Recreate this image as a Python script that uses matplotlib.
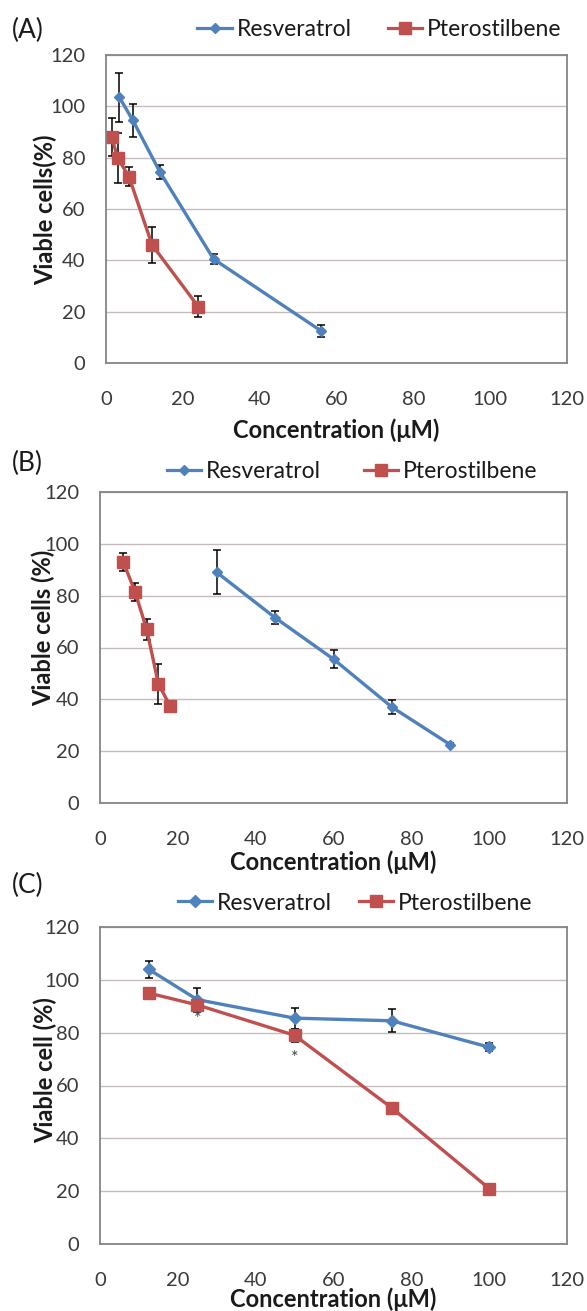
import numpy as np
import matplotlib.pyplot as plt
from matplotlib.lines import Line2D

# figure is 587 x 1311 px
W, H = 587, 1311
plt.rcParams['font.family'] = ['Lato', 'DejaVu Sans']

blue = '#4f81bd'
red = '#c0504d'

# Panel A
a_res_x = [3.5, 7, 14, 28, 56]
a_res_y = [103.5, 94.5, 74.5, 40.5, 12.5]
a_res_err = [9.5, 6.5, 2.7, 2.0, 2.3]
a_pte_x = [1.5, 3, 6, 12, 24]
a_pte_y = [88, 80, 72.5, 46, 22]
a_pte_err = [7.5, 9.8, 3.7, 7.0, 4.2]

# Panel B
b_res_x = [30, 45, 60, 75, 90]
b_res_y = [89, 71.5, 55.5, 37, 22.5]
b_res_err = [8.5, 2.4, 3.5, 2.6, 0.5]
b_pte_x = [6, 9, 12, 15, 18]
b_pte_y = [93, 81.5, 67, 46, 37.5]
b_pte_err = [3.6, 3.5, 4.0, 7.7, 0.5]

# Panel C
c_x = [12.5, 25, 50, 75, 100]
c_res_y = [104, 92.5, 85.5, 84.5, 74.5]
c_res_err = [3.2, 4.5, 4.0, 4.4, 1.5]
c_pte_y = [95, 90.5, 79, 51.5, 21]
c_pte_err = [0.8, 2.0, 2.5, 0.8, 0.8]
c_star_x = [25, 50]
c_star_y = [85, 70.5]

ticks = [0, 20, 40, 60, 80, 100, 120]


def px_axes(left, right, top, bottom):
    return [left / W, 1 - bottom / H, (right - left) / W, (bottom - top) / H]


def setup(ax, ylabel, ylab_x, ylab_y, xlab_y, tag, tag_y, leg_right, leg_y, res_ms, colsp):
    ax.set_xlim(0, 120)
    ax.set_ylim(0, 120)
    ax.set_xticks(ticks)
    ax.set_yticks(ticks)
    ax.grid(axis='y', color='#c4bcbc', lw=1.0)
    ax.set_axisbelow(True)
    for s in ax.spines.values():
        s.set_color('#858585')
        s.set_linewidth(1.3)
    ax.tick_params(length=0, labelsize=14.5, colors='#3a3a3a')
    ax.tick_params(axis='x', pad=20)
    ax.tick_params(axis='y', pad=15)
    ax.set_ylabel(ylabel, fontsize=17, fontweight='bold', color='#1a1a1a')
    ax.set_xlabel('Concentration (\u03bcM)', fontsize=17, fontweight='bold', color='#1a1a1a')
    pos = ax.get_position()
    # place labels at pixel positions
    ax.yaxis.set_label_coords((ylab_x / W - pos.x0) / pos.width, ((1 - ylab_y / H) - pos.y0) / pos.height)
    ax.yaxis.label.set_va('center')
    ax.xaxis.set_label_coords(0.5, ((1 - xlab_y / H) - pos.y0) / pos.height)
    ax.xaxis.label.set_va('center')
    fig.text(12 / W, 1 - tag_y / H, tag, fontsize=19, va='center', ha='left', color='#1a1a1a')
    handles = [Line2D([], [], color=blue, lw=2.3, marker='D', ms=res_ms),
               Line2D([], [], color=red, lw=2.3, marker='s', ms=9)]
    ax.legend(handles, ['Resveratrol', 'Pterostilbene'], loc='center right',
              bbox_to_anchor=(leg_right / W, 1 - leg_y / H),
              bbox_transform=fig.transFigure, ncol=2, frameon=False, fontsize=16.5,
              borderpad=0, handlelength=1.5, handletextpad=0.2, columnspacing=colsp,
              labelcolor='#1a1a1a')


def series(ax, x, y, err, color, marker, ms):
    ax.errorbar(x, y, yerr=err, color=color, lw=2.4, marker=marker, ms=ms,
                ecolor='black', elinewidth=1.1, capsize=3, capthick=1.1)


fig = plt.figure(figsize=(W / 100, H / 100), dpi=100)

# (A)
ax1 = fig.add_axes(px_axes(106, 567, 55, 363))
series(ax1, a_res_x, a_res_y, a_res_err, blue, 'D', 5)
series(ax1, a_pte_x, a_pte_y, a_pte_err, red, 's', 9)
setup(ax1, 'Viable cells(%)', 45, 210, 430, '(A)', 30, 573, 30, 5, 1.6)

# (B)
ax2 = fig.add_axes(px_axes(100, 567, 492, 803))
series(ax2, b_res_x, b_res_y, b_res_err, blue, 'D', 5)
series(ax2, b_pte_x, b_pte_y, b_pte_err, red, 's', 9)
setup(ax2, 'Viable cells (%)', 43, 628, 862, '(B)', 463, 549, 472, 5, 1.9)

# (C)
ax3 = fig.add_axes(px_axes(100, 567, 927, 1244))
series(ax3, c_x, c_res_y, c_res_err, blue, 'D', 6)
series(ax3, c_x, c_pte_y, c_pte_err, red, 's', 9)
for sx, sy in zip(c_star_x, c_star_y):
    ax3.text(sx, sy, '*', fontsize=13, ha='center', va='center', color='#444444', zorder=10)
setup(ax3, 'Viable cell (%)', 45, 1070, 1299, '(C)', 885, 544, 903, 6, 1.2)

fig.savefig('out.png', dpi=100)
